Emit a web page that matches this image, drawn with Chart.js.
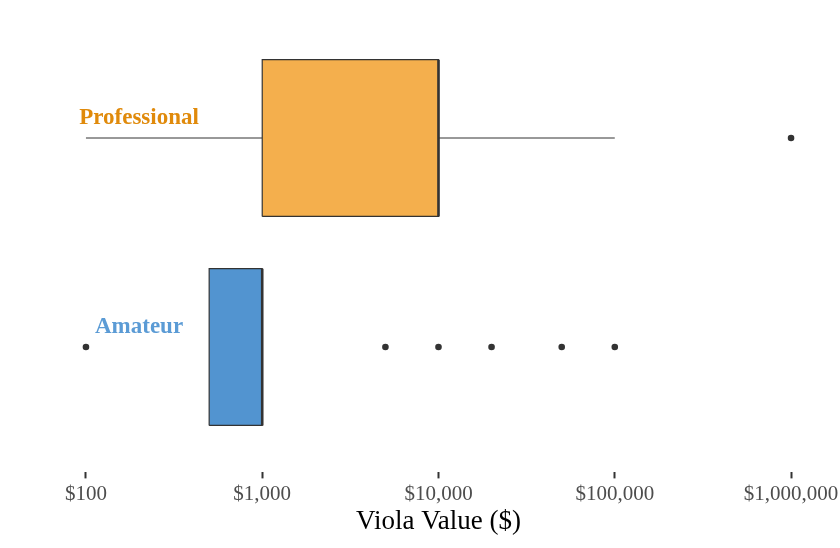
<!DOCTYPE html>
<html>
<head>
<meta charset="utf-8">
<script src="https://cdn.jsdelivr.net/npm/chart.js@4/dist/chart.umd.min.js"></script>
<style>
  html, body { margin: 0; padding: 0; background: #fff; }
  #wrap { width: 840px; height: 548px; }
</style>
</head>
<body>
<div id="wrap"><canvas id="c"></canvas></div>
<script>
// — data —
const groups      = ['Professional', 'Amateur'];
const groupPos    = [2, 1];
const whiskerLow  = [100, 500];
const q1          = [1000, 500];
const median      = [10000, 1000];
const q3          = [10000, 1000];
const whiskerHigh = [100000, 1000];
const outliers    = [[1000000], [100, 5000, 10000, 20000, 50000, 100000]];
const tickValues  = [100, 1000, 10000, 100000, 1000000];

// — styles —
const boxFill   = ['#F4AF4D', '#5294D0'];
const labelCol  = ['#E08A0B', '#5B9BD5'];
const ink = '#333333';
const half = 0.375;

const datasets = [];
groups.forEach((g, i) => {
  const y = groupPos[i];
  // whiskers
  if (whiskerLow[i] < q1[i]) {
    datasets.push({ data: [{x: whiskerLow[i], y: y}, {x: q1[i], y: y}],
      showLine: true, borderColor: ink, borderWidth: 1, pointRadius: 0, order: 5 });
  }
  if (whiskerHigh[i] > q3[i]) {
    datasets.push({ data: [{x: q3[i], y: y}, {x: whiskerHigh[i], y: y}],
      showLine: true, borderColor: ink, borderWidth: 1, pointRadius: 0, order: 5 });
  }
  // box
  datasets.push({
    data: [{x: q1[i], y: y - half}, {x: q3[i], y: y - half}, {x: q3[i], y: y + half},
           {x: q1[i], y: y + half}, {x: q1[i], y: y - half}],
    showLine: true, fill: 'shape', backgroundColor: boxFill[i],
    borderColor: ink, borderWidth: 1.2, pointRadius: 0, tension: 0, order: 4
  });
  // median
  datasets.push({ data: [{x: median[i], y: y - half}, {x: median[i], y: y + half}],
    showLine: true, borderColor: ink, borderWidth: 2.6, pointRadius: 0, order: 3 });
  // outliers
  datasets.push({ data: outliers[i].map(v => ({x: v, y: y})),
    pointRadius: 3.3, pointBackgroundColor: ink, pointBorderWidth: 0, order: 1 });
});

// — grup etiketleri —
const groupLabels = {
  id: 'groupLabels',
  afterDatasetsDraw(chart) {
    const ctx = chart.ctx, xs = chart.scales.x, ys = chart.scales.y;
    ctx.save();
    ctx.font = 'bold 23px "Liberation Serif"';
    ctx.textAlign = 'center';
    ctx.textBaseline = 'middle';
    groups.forEach((g, i) => {
      ctx.fillStyle = labelCol[i];
      ctx.fillText(g, xs.getPixelForValue(200), ys.getPixelForValue(groupPos[i] + 0.095));
    });
    ctx.restore();
  }
};

new Chart(document.getElementById('c'), {
  type: 'scatter',
  data: { datasets: datasets },
  plugins: [groupLabels],
  options: {
    responsive: true,
    maintainAspectRatio: false,
    animation: false,
    layout: { padding: { left: 50.7, right: 13.7, top: 12.6, bottom: 0 } },
    plugins: { legend: { display: false }, tooltip: { enabled: false } },
    scales: {
      x: {
        type: 'logarithmic',
        min: Math.pow(10, 1.8),
        max: Math.pow(10, 6.2),
        afterBuildTicks: s => { s.ticks = tickValues.map(v => ({ value: v })); },
        afterFit: s => { s.height = 75.6; s.paddingLeft = 0; s.paddingRight = 0; },
        border: { display: false },
        grid: { drawOnChartArea: false, drawTicks: true, tickLength: 6, tickWidth: 2, color: ink },
        ticks: {
          autoSkip: false, maxRotation: 0, padding: 3,
          color: '#4D4D4D',
          font: { family: '"Liberation Serif"', size: 21 },
          callback: v => '$' + Number(v).toLocaleString('en-US')
        },
        title: {
          display: true, text: 'Viola Value ($)', color: '#000',
          font: { family: '"Liberation Serif"', size: 27 },
          padding: { top: 0, bottom: 10 }
        }
      },
      y: { type: 'linear', min: 0.4, max: 2.6, display: false }
    }
  }
});
</script>
</body>
</html>
